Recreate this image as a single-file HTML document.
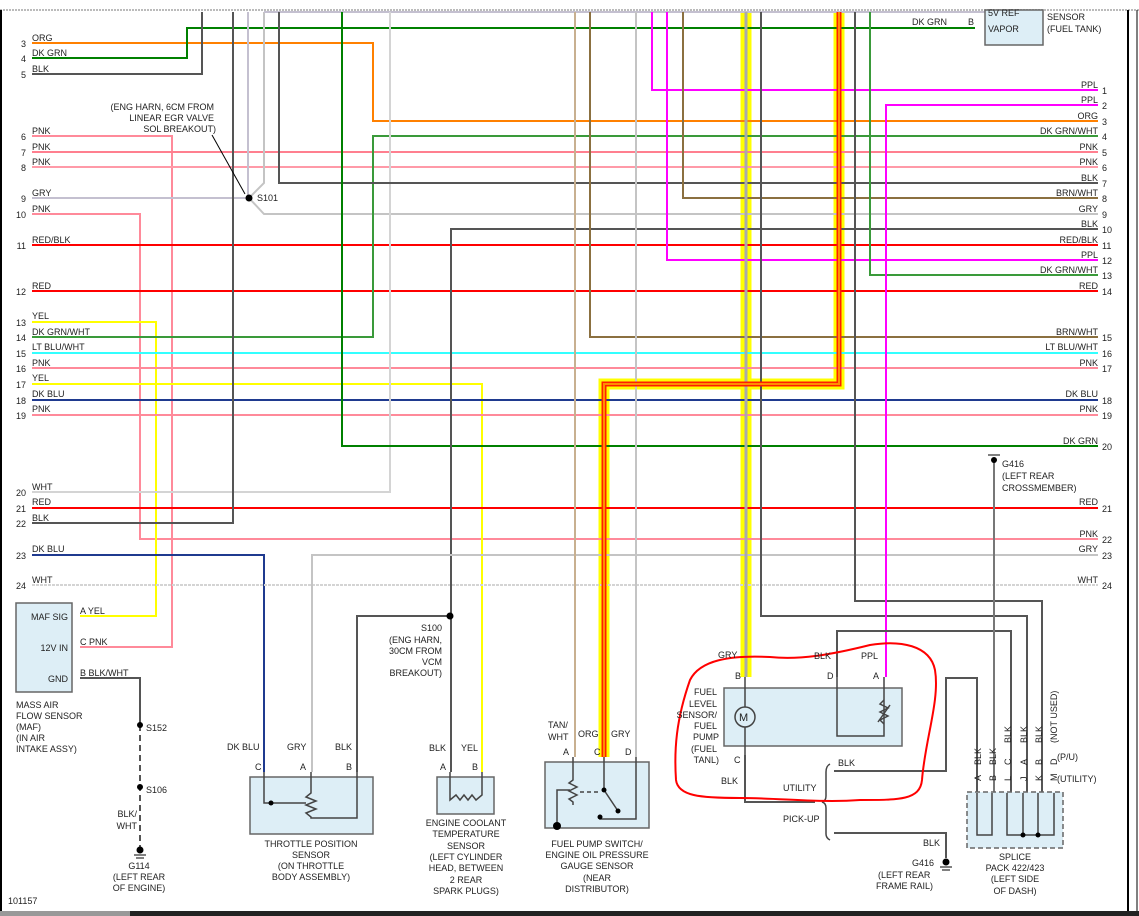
<!DOCTYPE html>
<html><head><meta charset="utf-8"><style>
html,body{margin:0;padding:0;background:#fff;}
svg{display:block;}
text{font-family:"Liberation Sans",sans-serif;font-size:9px;fill:#222;}
</style></head><body>
<svg width="1139" height="916" viewBox="0 0 1139 916" xmlns="http://www.w3.org/2000/svg">
<rect width="1139" height="916" fill="#fff"/>
<line x1="0" y1="10" x2="1139" y2="10" stroke="#bbb" stroke-width="2" stroke-dasharray="2,1"/>
<line x1="1" y1="10" x2="1" y2="912" stroke="#000" stroke-width="2"/>
<line x1="1128" y1="10" x2="1128" y2="912" stroke="#000" stroke-width="2"/>
<line x1="1137" y1="10" x2="1137" y2="912" stroke="#000" stroke-width="1"/>
<rect x="0" y="911" width="1139" height="5" fill="#222"/>
<rect x="0" y="911" width="130" height="5" fill="#999"/>

<g fill="none" stroke-width="2" stroke-linejoin="miter">
<polyline points="746,12 746,677" stroke="#ffff00" stroke-width="11"/>
<polyline points="839,12 839,384 604,384 604,757" stroke="#ffff00" stroke-width="11"/>

<polyline points="32,43 373,43 373,121 1098,121" stroke="#ff8000"/>
<polyline points="32,58 187,58 187,28 975,28" stroke="#008000"/>
<polyline points="32,74 202,74 202,12" stroke="#555"/>
<polyline points="32,136 172,136 172,647 80,647" stroke="#ff8a9a"/>
<polyline points="32,152 1098,152" stroke="#ff7f8f"/>
<polyline points="32,167 1098,167" stroke="#ff9aa8"/>
<polyline points="32,198 249,198" stroke="#c4c0d0"/>
<polyline points="248,12 248,198" stroke="#c4c0d0"/>
<polyline points="264,12 264,183 249,198 264,214 1098,214" stroke="#c4c4c4"/>
<polyline points="264,12 985,12" stroke="#c4c0d0"/>
<polyline points="32,214 140,214 140,539 1098,539" stroke="#ff8a9a"/>
<polyline points="32,245 1098,245" stroke="#ff0000"/>
<polyline points="32,291 1098,291" stroke="#ff0000"/>
<polyline points="32,322 156,322 156,616 80,616" stroke="#ffff00"/>
<polyline points="32,337 373,337 373,136 1098,136" stroke="#3a9a3a"/>
<polyline points="32,353 1098,353" stroke="#33ffff"/>
<polyline points="32,368 1098,368" stroke="#ff8a9a"/>
<polyline points="32,384 482,384 482,772" stroke="#ffff00"/>
<polyline points="32,400 1098,400" stroke="#1f3a8f"/>
<polyline points="32,415 1098,415" stroke="#ff8a9a"/>
<polyline points="32,492 390,492 390,12" stroke="#d4d4d4"/>
<polyline points="32,508 1098,508" stroke="#ff0000"/>
<polyline points="32,523 233,523 233,12" stroke="#555"/>
<polyline points="32,555 264,555 264,772" stroke="#1f3a8f"/>
<polyline points="32,585 1098,585" stroke="#d4d4d4" stroke-dasharray="3,1"/>
<polyline points="279,12 279,183 1098,183" stroke="#555"/>
<polyline points="342,12 342,446 1098,446" stroke="#008000"/>
<polyline points="1098,229 451,229 451,772" stroke="#555"/>
<polyline points="450,616 357,616 357,772" stroke="#555"/>
<polyline points="1098,555 312,555 312,772" stroke="#c4c4c4"/>
<polyline points="575,12 575,757" stroke="#c8b090"/>
<polyline points="590,12 590,337 1098,337" stroke="#8b7040"/>
<polyline points="636,12 636,757" stroke="#c4c4c4"/>
<polyline points="652,12 652,90 1098,90" stroke="#ff00ff"/>
<polyline points="667,12 667,260 1098,260" stroke="#ff00ff"/>
<polyline points="683,12 683,198 1098,198" stroke="#8b7040"/>
<polyline points="761,12 761,616 1027,616 1027,793" stroke="#555"/>
<polyline points="855,12 855,601 1042,601 1042,793" stroke="#555"/>
<polyline points="870,12 870,275 1098,275" stroke="#3a9a3a"/>
<polyline points="1098,105 886,105 886,677" stroke="#ff00ff"/>
<polyline points="837,677 837,631 1011,631 1011,793" stroke="#555"/>
<polyline points="994,462 994,793" stroke="#777"/>
<polyline points="80,678 140,678 140,725" stroke="#555"/>
<polyline points="140,725 140,850" stroke="#555" stroke-dasharray="6,4"/>
<polyline points="745,755 745,802 815,802" stroke="#555"/>
<polyline points="834,771 946,771 946,678 977,678 977,793" stroke="#555"/>
<polyline points="834,833 946,833 946,858" stroke="#555"/>

<polyline points="746,12 746,677" stroke="#aaa" stroke-width="3"/>
<polyline points="839,12 839,384 604,384 604,757" stroke="#ff2000" stroke-width="5"/>
<polyline points="839,12 839,384 604,384 604,757" stroke="#ff9000" stroke-width="2"/>
</g>

<circle cx="249" cy="198" r="3.5" fill="#000"/>
<line x1="212" y1="135" x2="245" y2="194" stroke="#000" stroke-width="1"/>
<circle cx="450" cy="616" r="3.5" fill="#000"/>
<circle cx="140" cy="725" r="3" fill="#000"/>
<circle cx="140" cy="787" r="3" fill="#000"/>
<circle cx="140" cy="850" r="3.5" fill="#000"/>
<line x1="134" y1="855" x2="146" y2="855" stroke="#000"/><line x1="136" y1="858" x2="144" y2="858" stroke="#000"/>
<circle cx="946" cy="862" r="3.5" fill="#000"/>
<line x1="940" y1="867" x2="952" y2="867" stroke="#000"/><line x1="942" y1="870" x2="950" y2="870" stroke="#000"/>
<circle cx="994" cy="460" r="3" fill="#000"/>
<line x1="988" y1="455" x2="1000" y2="455" stroke="#000"/>

<g fill="#ddeef6" stroke="#666" stroke-width="1.5">
<rect x="985" y="10" width="58" height="35"/>
<rect x="16" y="603" width="56" height="89"/>
<rect x="250" y="777" width="123" height="57"/>
<rect x="437" y="777" width="57" height="37"/>
<rect x="545" y="762" width="104" height="66"/>
<rect x="724" y="688" width="178" height="58"/>
<rect x="967" y="792" width="96" height="56" stroke-dasharray="5,3"/>
</g>
<g fill="none" stroke="#444" stroke-width="1.5">
<polyline points="264,772 264,803 306,803"/><polyline points="311,772 311,793 306,797 316,801 306,805 316,809 306,813 311,817 311,818 357,818 357,772"/>
<polyline points="450,772 450,800 456,795 460,800 464,795 468,800 472,795 476,800 482,795 482,772"/>
<polyline points="573,757 573,780 569,783 577,787 569,791 577,795 569,799 573,802 573,805"/>
<polyline points="557,825 557,790 570,790"/>
<polyline points="604,757 604,790 618,811"/>
<polyline points="600,817 600,819 636,819 636,757"/>
<line x1="580" y1="792" x2="600" y2="792" stroke-dasharray="4,3"/>
<line x1="745" y1="677" x2="745" y2="707"/><line x1="745" y1="727" x2="745" y2="755"/>
<polyline points="837,677 837,736 884,736 884,677"/>
<polyline points="884,700 880,704 888,708 880,712 888,716 880,720 884,724"/>
<line x1="878" y1="722" x2="890" y2="705"/>
<polyline points="977,793 977,835 992,835 992,793"/>
<polyline points="1007,793 1007,835 1054,835 1054,793"/>
<line x1="1023" y1="793" x2="1023" y2="835"/><line x1="1038" y1="793" x2="1038" y2="835"/>
<path d="M830,764 Q826,766 826,772 L826,796 Q826,801 822,802 Q826,803 826,808 L826,834 Q826,838 830,840"/>
</g>
<circle cx="745" cy="717" r="10" fill="#ddeef6" stroke="#444" stroke-width="1.5"/>
<text x="739" y="721" style="font-size:11px">M</text>
<circle cx="604" cy="790" r="2.5" fill="#000"/><circle cx="618" cy="811" r="2.5" fill="#000"/><circle cx="600" cy="817" r="2.5" fill="#000"/>
<circle cx="557" cy="826" r="4" fill="#000"/>
<circle cx="271" cy="803" r="2.5" fill="#000"/>
<circle cx="1023" cy="835" r="2.5" fill="#000"/><circle cx="1038" cy="835" r="2.5" fill="#000"/>

<path d="M690,680 C700,660 730,655 770,657 C800,660 830,655 870,645 C900,640 930,645 935,670 C940,700 925,740 922,780 C920,800 900,800 860,800 C820,803 780,798 740,798 C700,798 678,796 676,780 C674,750 676,720 690,680 Z" fill="none" stroke="#ff0000" stroke-width="2"/>

<g>
<text x="26" y="47" text-anchor="end">3</text><text x="32" y="41">ORG</text>
<text x="26" y="62" text-anchor="end">4</text><text x="32" y="56">DK GRN</text>
<text x="26" y="78" text-anchor="end">5</text><text x="32" y="72">BLK</text>
<text x="26" y="140" text-anchor="end">6</text><text x="32" y="134">PNK</text>
<text x="26" y="156" text-anchor="end">7</text><text x="32" y="150">PNK</text>
<text x="26" y="171" text-anchor="end">8</text><text x="32" y="165">PNK</text>
<text x="26" y="202" text-anchor="end">9</text><text x="32" y="196">GRY</text>
<text x="26" y="218" text-anchor="end">10</text><text x="32" y="212">PNK</text>
<text x="26" y="249" text-anchor="end">11</text><text x="32" y="243">RED/BLK</text>
<text x="26" y="295" text-anchor="end">12</text><text x="32" y="289">RED</text>
<text x="26" y="326" text-anchor="end">13</text><text x="32" y="319">YEL</text>
<text x="26" y="341" text-anchor="end">14</text><text x="32" y="335">DK GRN/WHT</text>
<text x="26" y="357" text-anchor="end">15</text><text x="32" y="350">LT BLU/WHT</text>
<text x="26" y="372" text-anchor="end">16</text><text x="32" y="366">PNK</text>
<text x="26" y="388" text-anchor="end">17</text><text x="32" y="381">YEL</text>
<text x="26" y="404" text-anchor="end">18</text><text x="32" y="397">DK BLU</text>
<text x="26" y="419" text-anchor="end">19</text><text x="32" y="412">PNK</text>
<text x="26" y="496" text-anchor="end">20</text><text x="32" y="490">WHT</text>
<text x="26" y="512" text-anchor="end">21</text><text x="32" y="505">RED</text>
<text x="26" y="527" text-anchor="end">22</text><text x="32" y="521">BLK</text>
<text x="26" y="559" text-anchor="end">23</text><text x="32" y="552">DK BLU</text>
<text x="26" y="589" text-anchor="end">24</text><text x="32" y="583">WHT</text>
</g>
<g>
<text x="1098" y="88" text-anchor="end">PPL</text><text x="1102" y="94">1</text>
<text x="1098" y="103" text-anchor="end">PPL</text><text x="1102" y="109">2</text>
<text x="1098" y="119" text-anchor="end">ORG</text><text x="1102" y="125">3</text>
<text x="1098" y="134" text-anchor="end">DK GRN/WHT</text><text x="1102" y="140">4</text>
<text x="1098" y="150" text-anchor="end">PNK</text><text x="1102" y="156">5</text>
<text x="1098" y="165" text-anchor="end">PNK</text><text x="1102" y="171">6</text>
<text x="1098" y="181" text-anchor="end">BLK</text><text x="1102" y="187">7</text>
<text x="1098" y="196" text-anchor="end">BRN/WHT</text><text x="1102" y="202">8</text>
<text x="1098" y="212" text-anchor="end">GRY</text><text x="1102" y="218">9</text>
<text x="1098" y="227" text-anchor="end">BLK</text><text x="1102" y="233">10</text>
<text x="1098" y="243" text-anchor="end">RED/BLK</text><text x="1102" y="249">11</text>
<text x="1098" y="258" text-anchor="end">PPL</text><text x="1102" y="264">12</text>
<text x="1098" y="273" text-anchor="end">DK GRN/WHT</text><text x="1102" y="279">13</text>
<text x="1098" y="289" text-anchor="end">RED</text><text x="1102" y="295">14</text>
<text x="1098" y="335" text-anchor="end">BRN/WHT</text><text x="1102" y="341">15</text>
<text x="1098" y="350" text-anchor="end">LT BLU/WHT</text><text x="1102" y="357">16</text>
<text x="1098" y="366" text-anchor="end">PNK</text><text x="1102" y="372">17</text>
<text x="1098" y="397" text-anchor="end">DK BLU</text><text x="1102" y="404">18</text>
<text x="1098" y="412" text-anchor="end">PNK</text><text x="1102" y="419">19</text>
<text x="1098" y="444" text-anchor="end">DK GRN</text><text x="1102" y="450">20</text>
<text x="1098" y="505" text-anchor="end">RED</text><text x="1102" y="512">21</text>
<text x="1098" y="537" text-anchor="end">PNK</text><text x="1102" y="543">22</text>
<text x="1098" y="552" text-anchor="end">GRY</text><text x="1102" y="559">23</text>
<text x="1098" y="583" text-anchor="end">WHT</text><text x="1102" y="589">24</text>
</g>

<g>
<text x="912" y="25">DK GRN</text><text x="968" y="25">B</text>
<text x="988" y="16">5V REF</text><text x="988" y="32">VAPOR</text>
<text x="1047" y="20">SENSOR</text><text x="1047" y="32">(FUEL TANK)</text>
<text x="214" y="110" text-anchor="end">(ENG HARN, 6CM FROM</text>
<text x="214" y="121" text-anchor="end">LINEAR EGR VALVE</text>
<text x="216" y="132" text-anchor="end">SOL BREAKOUT)</text>
<text x="257" y="201">S101</text>
<text x="1002" y="467">G416</text><text x="1002" y="479">(LEFT REAR</text><text x="1002" y="491">CROSSMEMBER)</text>
<text x="68" y="620" text-anchor="end">MAF SIG</text><text x="68" y="651" text-anchor="end">12V IN</text><text x="68" y="682" text-anchor="end">GND</text>
<text x="80" y="614">A  YEL</text><text x="80" y="645">C  PNK</text><text x="80" y="676">B  BLK/WHT</text>
<text x="16" y="708">MASS AIR</text><text x="16" y="719">FLOW SENSOR</text><text x="16" y="730">(MAF)</text><text x="16" y="741">(IN AIR</text><text x="16" y="752">INTAKE ASSY)</text>
<text x="146" y="731">S152</text><text x="146" y="793">S106</text>
<text x="137" y="817" text-anchor="end">BLK/</text><text x="137" y="829" text-anchor="end">WHT</text>
<text x="139" y="869" text-anchor="middle">G114</text><text x="139" y="880" text-anchor="middle">(LEFT REAR</text><text x="139" y="891" text-anchor="middle">OF ENGINE)</text>
<text x="8" y="904">101157</text>
<text x="227" y="750">DK BLU</text><text x="287" y="750">GRY</text><text x="335" y="750">BLK</text>
<text x="255" y="770">C</text><text x="300" y="770">A</text><text x="346" y="770">B</text>
<text x="311" y="847" text-anchor="middle">THROTTLE POSITION</text><text x="311" y="858" text-anchor="middle">SENSOR</text><text x="311" y="869" text-anchor="middle">(ON THROTTLE</text><text x="311" y="880" text-anchor="middle">BODY ASSEMBLY)</text>
<text x="442" y="631" text-anchor="end">S100</text><text x="442" y="643" text-anchor="end">(ENG HARN,</text><text x="442" y="654" text-anchor="end">30CM FROM</text><text x="442" y="665" text-anchor="end">VCM</text><text x="442" y="676" text-anchor="end">BREAKOUT)</text>
<text x="429" y="751">BLK</text><text x="461" y="751">YEL</text>
<text x="440" y="770">A</text><text x="472" y="770">B</text>
<text x="466" y="826" text-anchor="middle">ENGINE COOLANT</text><text x="466" y="837" text-anchor="middle">TEMPERATURE</text><text x="466" y="849" text-anchor="middle">SENSOR</text><text x="466" y="860" text-anchor="middle">(LEFT CYLINDER</text><text x="466" y="871" text-anchor="middle">HEAD, BETWEEN</text><text x="466" y="883" text-anchor="middle">2 REAR</text><text x="466" y="894" text-anchor="middle">SPARK PLUGS)</text>
<text x="548" y="728">TAN/</text><text x="548" y="740">WHT</text><text x="578" y="737">ORG</text><text x="611" y="737">GRY</text>
<text x="563" y="755">A</text><text x="594" y="755">C</text><text x="625" y="755">D</text>
<text x="597" y="847" text-anchor="middle">FUEL PUMP SWITCH/</text><text x="597" y="858" text-anchor="middle">ENGINE OIL PRESSURE</text><text x="597" y="869" text-anchor="middle">GAUGE SENSOR</text><text x="597" y="881" text-anchor="middle">(NEAR</text><text x="597" y="892" text-anchor="middle">DISTRIBUTOR)</text>
<text x="718" y="658">GRY</text><text x="814" y="659">BLK</text><text x="861" y="659">PPL</text>
<text x="735" y="679">B</text><text x="827" y="679">D</text><text x="873" y="679">A</text>
<text x="717" y="695" text-anchor="end">FUEL</text><text x="717" y="707" text-anchor="end">LEVEL</text><text x="717" y="718" text-anchor="end">SENSOR/</text><text x="717" y="729" text-anchor="end">FUEL</text><text x="719" y="740" text-anchor="end">PUMP</text><text x="717" y="752" text-anchor="end">(FUEL</text><text x="719" y="763" text-anchor="end">TANL)</text>
<text x="734" y="763">C</text><text x="721" y="784">BLK</text>
<text x="838" y="766">BLK</text><text x="783" y="791">UTILITY</text><text x="783" y="822">PICK-UP</text>
<text x="923" y="846">BLK</text>
<text x="912" y="866">G416</text><text x="878" y="878">(LEFT REAR</text><text x="876" y="889">FRAME RAIL)</text>
<text x="1015" y="860" text-anchor="middle">SPLICE</text><text x="1015" y="871" text-anchor="middle">PACK 422/423</text><text x="1015" y="882" text-anchor="middle">(LEFT SIDE</text><text x="1015" y="894" text-anchor="middle">OF DASH)</text>
<text x="1057" y="760">(P/U)</text><text x="1057" y="782">(UTILITY)</text>
<g transform="translate(981,781) rotate(-90)"><text>A</text><text x="16">BLK</text></g>
<g transform="translate(996,781) rotate(-90)"><text>B</text><text x="16">BLK</text></g>
<g transform="translate(1011,781) rotate(-90)"><text>L</text><text x="16">C</text><text x="38">BLK</text></g>
<g transform="translate(1027,781) rotate(-90)"><text>J</text><text x="16">A</text><text x="38">BLK</text></g>
<g transform="translate(1042,781) rotate(-90)"><text>K</text><text x="16">B</text><text x="38">BLK</text></g>
<g transform="translate(1057,781) rotate(-90)"><text>M</text><text x="16">D</text><text x="38">(NOT USED)</text></g>
</g>
</svg>
</body></html>
